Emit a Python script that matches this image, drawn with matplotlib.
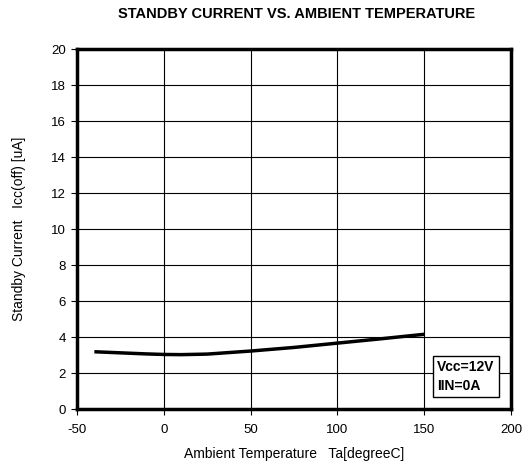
import matplotlib
matplotlib.use("Agg")
import matplotlib.pyplot as plt
import numpy as np

plt.rcParams['font.family'] = ['Liberation Sans', 'DejaVu Sans']
plt.rcParams['axes.unicode_minus'] = False

temp = [-40, -25, -10, 0, 10, 25, 50, 75, 100, 125, 150]
current = [3.18, 3.12, 3.06, 3.03, 3.02, 3.05, 3.22, 3.42, 3.66, 3.9, 4.15]

xticks = [-50, 0, 50, 100, 150, 200]
yticks = [0, 2, 4, 6, 8, 10, 12, 14, 16, 18, 20]

fig = plt.figure(figsize=(5.23, 4.66), dpi=100)
ax = fig.add_axes([77/523, 1-409/466, (511-77)/523, (409-49)/466])
ax.plot(temp, current, color='black', lw=2.5, solid_capstyle='butt')
ax.set_xlim(-50, 200)
ax.set_ylim(0, 20)
ax.set_xticks(xticks)
ax.set_yticks(yticks)
ax.grid(True, color='black', lw=0.8)
ax.set_axisbelow(True)
for s in ax.spines.values():
    s.set_linewidth(2.5)
ax.tick_params(axis='x', direction='out', length=4, width=0.8, labelsize=9.5, pad=7)
ax.tick_params(axis='y', direction='out', length=4, width=0.8, labelsize=9.5, pad=4)
ax.set_xlabel('Ambient Temperature   Ta[degreeC]', fontsize=10, labelpad=8)
ax.set_ylabel('Standby Current   Icc(off) [uA]', fontsize=10, labelpad=18)
fig.text(297/523, 1-14/466, 'STANDBY CURRENT VS. AMBIENT TEMPERATURE', ha='center', va='center',
         fontsize=10.5, fontweight='bold')
ax.text(0.830, 0.045, 'Vcc=12V\nIIN=0A', transform=ax.transAxes, fontsize=10, fontweight='bold',
        va='bottom', ha='left', linespacing=1.4,
        bbox=dict(boxstyle='square,pad=0.3', fc='white', ec='black', lw=1))
fig.savefig('out.png', dpi=100)
